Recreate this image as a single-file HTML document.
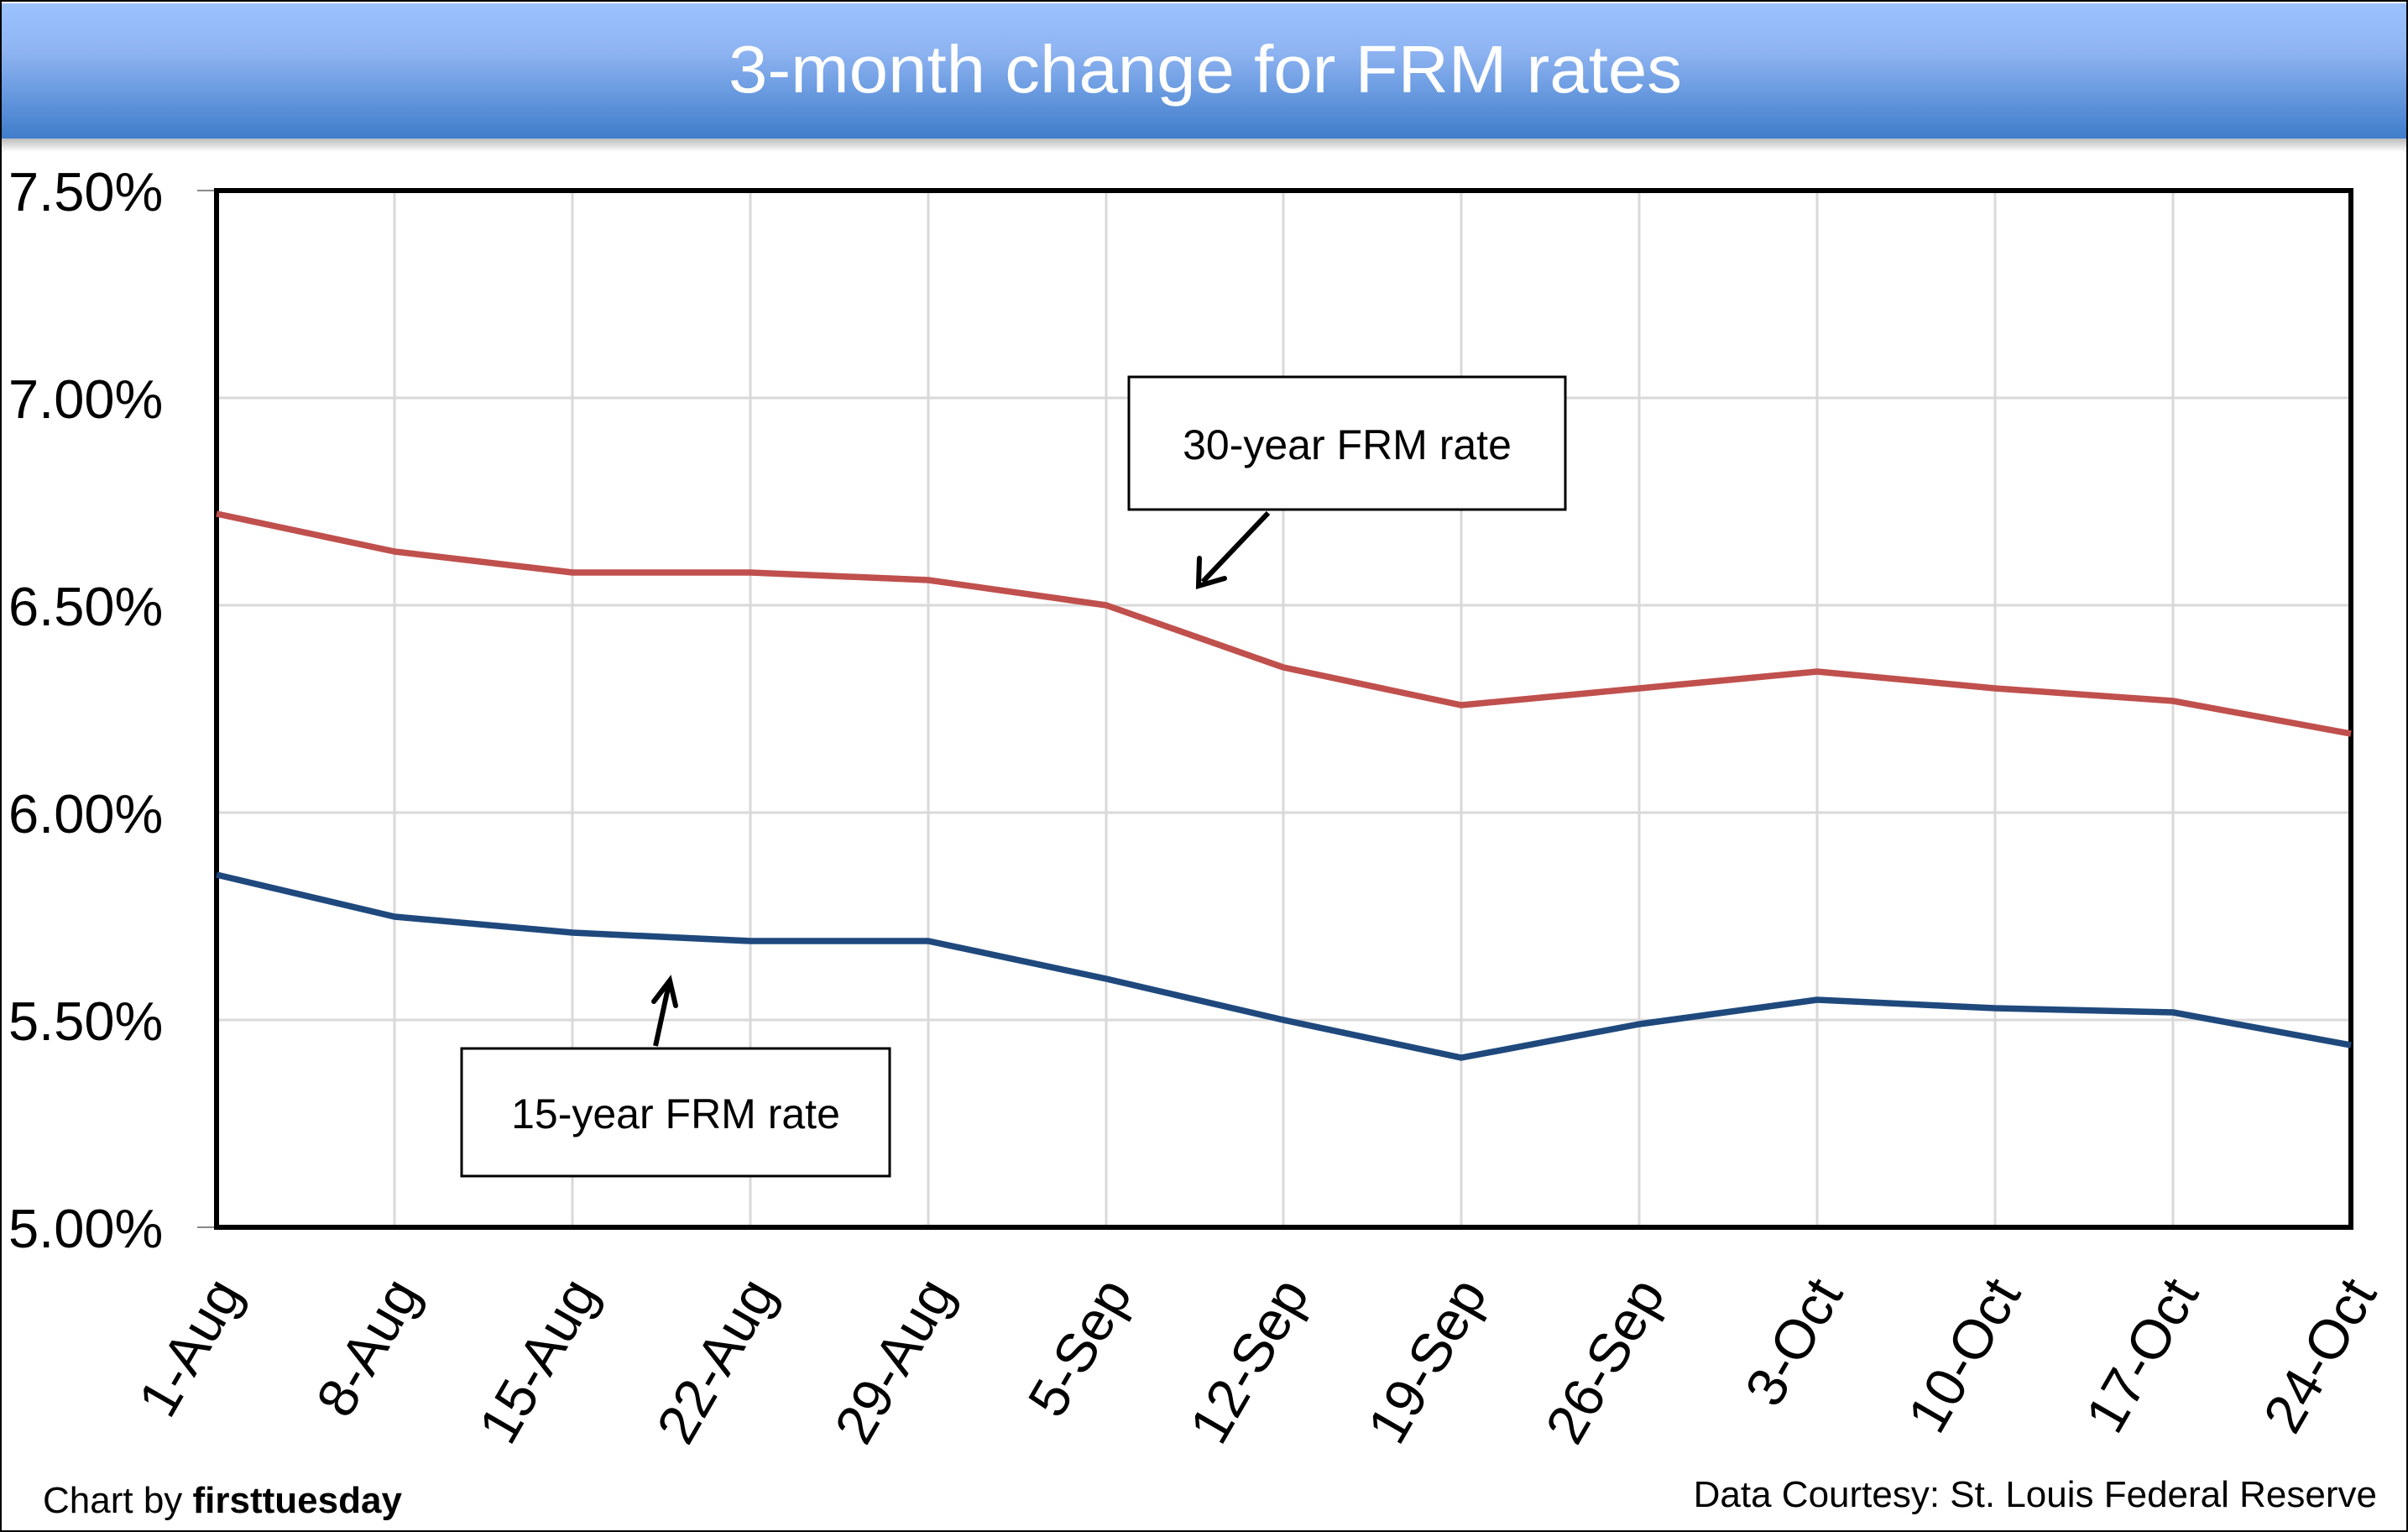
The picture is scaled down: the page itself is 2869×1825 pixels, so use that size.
<!DOCTYPE html>
<html><head><meta charset="utf-8"><style>
html,body{margin:0;padding:0;background:#fff}
svg{display:block}
text{font-family:"Liberation Sans",sans-serif}
</style></head><body>
<svg width="2869" height="1825" viewBox="0 0 2869 1825" xmlns="http://www.w3.org/2000/svg">
<defs>
<linearGradient id="tg" x1="0" y1="0" x2="0" y2="1">
<stop offset="0" stop-color="#9cc2ff"/><stop offset="0.35" stop-color="#8fb4f2"/><stop offset="1" stop-color="#3f7dcb"/>
</linearGradient>
<linearGradient id="sh" x1="0" y1="0" x2="0" y2="1">
<stop offset="0" stop-color="#bbb"/><stop offset="1" stop-color="#fff"/>
</linearGradient>
</defs>
<rect x="0" y="0" width="2869" height="1825" fill="#fff"/>
<rect x="2" y="165" width="2865" height="16" fill="url(#sh)"/>
<rect x="2" y="4" width="2865" height="161" fill="url(#tg)"/>
<text x="1436" y="110" font-size="80" fill="#fff" text-anchor="middle" textLength="1136" lengthAdjust="spacingAndGlyphs">3-month change for FRM rates</text>
<rect x="1" y="1" width="2867" height="1823" fill="none" stroke="#000" stroke-width="2"/>
<g stroke="#d9d9d9" stroke-width="3">
<line x1="258" y1="474" x2="2801" y2="474"/><line x1="258" y1="721" x2="2801" y2="721"/><line x1="258" y1="968" x2="2801" y2="968"/><line x1="258" y1="1215" x2="2801" y2="1215"/>
<line x1="470" y1="227" x2="470" y2="1462"/><line x1="682" y1="227" x2="682" y2="1462"/><line x1="894" y1="227" x2="894" y2="1462"/><line x1="1106" y1="227" x2="1106" y2="1462"/><line x1="1318" y1="227" x2="1318" y2="1462"/><line x1="1529" y1="227" x2="1529" y2="1462"/><line x1="1741" y1="227" x2="1741" y2="1462"/><line x1="1953" y1="227" x2="1953" y2="1462"/><line x1="2165" y1="227" x2="2165" y2="1462"/><line x1="2377" y1="227" x2="2377" y2="1462"/><line x1="2589" y1="227" x2="2589" y2="1462"/>
</g>
<g stroke="#888" stroke-width="2"><line x1="235" y1="227" x2="258" y2="227"/><line x1="235" y1="1462" x2="258" y2="1462"/></g>
<rect x="258" y="227" width="2543" height="1235" fill="none" stroke="#000" stroke-width="6"/>
<g font-size="65" fill="#000">
<text x="10" y="251">7.50%</text><text x="10" y="498">7.00%</text><text x="10" y="745">6.50%</text><text x="10" y="992">6.00%</text><text x="10" y="1239">5.50%</text><text x="10" y="1486">5.00%</text>
</g>
<polyline fill="none" stroke="#c0504d" stroke-width="7.5" stroke-linejoin="round" points="258,612 470,657 682,682 894,682 1106,691 1318,721 1529,795 1741,840 1953,820 2165,800 2377,820 2589,835 2801,874"/>
<polyline fill="none" stroke="#1f497d" stroke-width="7.5" stroke-linejoin="round" points="258,1042 470,1092 682,1111 894,1121 1106,1121 1318,1166 1529,1215 1741,1260 1953,1220 2165,1191 2377,1201 2589,1206 2801,1245"/>
<rect x="1345" y="449" width="520" height="158" fill="#fff" stroke="#000" stroke-width="3"/>
<text x="1605" y="547" font-size="50" text-anchor="middle">30-year FRM rate</text>
<line x1="1511" y1="611" x2="1433" y2="693" stroke="#000" stroke-width="6"/>
<polyline points="1429,665 1428,698 1459,689" fill="none" stroke="#000" stroke-width="6" stroke-linecap="round"/>
<rect x="550" y="1249" width="510" height="152" fill="#fff" stroke="#000" stroke-width="3"/>
<text x="805" y="1344" font-size="50" text-anchor="middle">15-year FRM rate</text>
<line x1="781" y1="1246" x2="797" y2="1172" stroke="#000" stroke-width="6"/>
<polyline points="779,1193 798,1168 805,1198" fill="none" stroke="#000" stroke-width="6" stroke-linecap="round"/>
<g font-size="66" fill="#000" text-anchor="end">
<text transform="translate(290,1540) rotate(-60)">1-Aug</text>
<text transform="translate(502,1540) rotate(-60)">8-Aug</text>
<text transform="translate(714,1540) rotate(-60)">15-Aug</text>
<text transform="translate(926,1540) rotate(-60)">22-Aug</text>
<text transform="translate(1138,1540) rotate(-60)">29-Aug</text>
<text transform="translate(1350,1540) rotate(-60)">5-Sep</text>
<text transform="translate(1561,1540) rotate(-60)">12-Sep</text>
<text transform="translate(1773,1540) rotate(-60)">19-Sep</text>
<text transform="translate(1985,1540) rotate(-60)">26-Sep</text>
<text transform="translate(2197,1540) rotate(-60)">3-Oct</text>
<text transform="translate(2409,1540) rotate(-60)">10-Oct</text>
<text transform="translate(2621,1540) rotate(-60)">17-Oct</text>
<text transform="translate(2833,1540) rotate(-60)">24-Oct</text>
</g>
<text x="51" y="1802" font-size="44">Chart by <tspan font-weight="bold">firsttuesday</tspan></text>
<text x="2832" y="1795" font-size="44" text-anchor="end">Data Courtesy: St. Louis Federal Reserve</text>
</svg>
</body></html>
